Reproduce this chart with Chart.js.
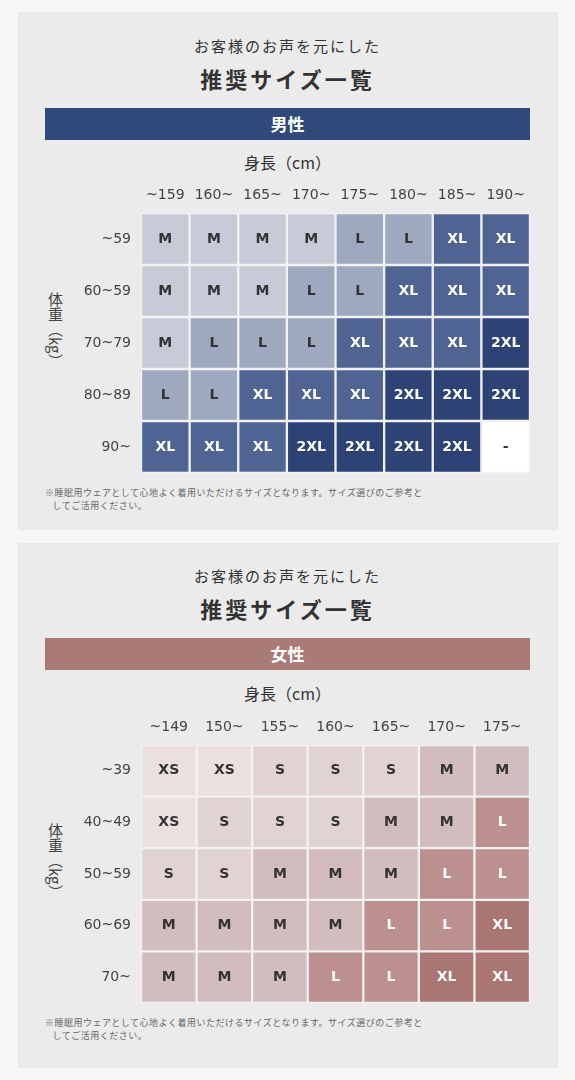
<!DOCTYPE html>
<html><head><meta charset="utf-8">
<script src="https://cdn.jsdelivr.net/npm/chart.js@4"></script>
<style>
body{margin:0;width:575px;height:1080px;background:#f6f6f6;font-family:"Noto Sans CJK JP",sans-serif;color:#333;position:relative;overflow:hidden}
.panel{position:absolute;left:18px;width:540px;background:#ebebeb}
.t1,.t2,.hd,.ax,.vt,.note,.cv{position:absolute}
.t1{left:0;width:575px;text-align:center;font-size:15px;letter-spacing:2px}
.t2{left:0;width:575px;text-align:center;font-size:22px;font-weight:bold;letter-spacing:3px}
.hd{left:45px;width:485px;height:32px;line-height:32px;text-align:center;color:#fff;font-size:17px;font-weight:bold}
.ax{left:0;width:575px;text-align:center;font-size:16px;padding-left:0}
.vt{left:46px;width:20px;font-size:15px;writing-mode:vertical-rl;color:#444}
.note{left:45px;width:495px;font-size:9px;color:#666;line-height:13px;letter-spacing:.5px}
.cv{left:0;width:575px;height:300px}
</style></head><body>
<div class="panel" style="top:12px;height:518px"></div>
<div class="panel" style="top:543px;height:525px"></div>

<div class="t1" style="top:35px">お客様のお声を元にした</div>
<div class="t2" style="top:62px">推奨サイズ一覧</div>
<div class="hd" style="top:108px;background:#2f4a7a">男性</div>
<div class="ax" style="top:150px">身長（cm）</div>
<div class="vt" style="top:292px">体重（kg）</div>
<div class="cv" style="top:180px"><canvas id="men"></canvas></div>
<div class="note" style="top:486px">※睡眠用ウェアとして心地よく着用いただけるサイズとなります。サイズ選びのご参考と<br>&nbsp;&nbsp;&nbsp;してご活用ください。</div>

<div class="t1" style="top:565px">お客様のお声を元にした</div>
<div class="t2" style="top:592px">推奨サイズ一覧</div>
<div class="hd" style="top:638px;background:#a97a76">女性</div>
<div class="ax" style="top:681px">身長（cm）</div>
<div class="vt" style="top:823px">体重（kg）</div>
<div class="cv" style="top:710px"><canvas id="women"></canvas></div>
<div class="note" style="top:1016px">※睡眠用ウェアとして心地よく着用いただけるサイズとなります。サイズ選びのご参考と<br>&nbsp;&nbsp;&nbsp;してご活用ください。</div>

<script>
const menHeights = ["~159", "160~", "165~", "170~", "175~", "180~", "185~", "190~"];
const menWeights = ["~59", "60~59", "70~79", "80~89", "90~"];
const menSizes = [
  ["M", "M", "M", "M", "L", "L", "XL", "XL"],
  ["M", "M", "M", "L", "L", "XL", "XL", "XL"],
  ["M", "L", "L", "L", "XL", "XL", "XL", "2XL"],
  ["L", "L", "XL", "XL", "XL", "2XL", "2XL", "2XL"],
  ["XL", "XL", "XL", "2XL", "2XL", "2XL", "2XL", "-"],
];
const menColors = { M: "#c6cbd7", L: "#9ea8be", XL: "#506493", "2XL": "#2d4275", "-": "#ffffff" };

const womenHeights = ["~149", "150~", "155~", "160~", "165~", "170~", "175~"];
const womenWeights = ["~39", "40~49", "50~59", "60~69", "70~"];
const womenSizes = [
  ["XS", "XS", "S", "S", "S", "M", "M"],
  ["XS", "S", "S", "S", "M", "M", "L"],
  ["S", "S", "M", "M", "M", "L", "L"],
  ["M", "M", "M", "M", "L", "L", "XL"],
  ["M", "M", "M", "L", "L", "XL", "XL"],
];
const womenColors = { XS: "#ebdfdf", S: "#e2d3d3", M: "#d2bcbd", L: "#bb908e", XL: "#a97672" };

const darkText = { "2XL": 1, XL: 1 };

function makeGrid(id, heights, weights, sizes, colors, whiteL, padTop) {
  const labelPlugin = {
    id: "cells",
    afterDatasetsDraw(chart) {
      const ctx = chart.ctx;
      ctx.save();
      ctx.textAlign = "center";
      ctx.textBaseline = "middle";
      chart.data.datasets.forEach((ds, i) => {
        chart.getDatasetMeta(i).data.forEach((bar, j) => {
          const s = sizes[i][j];
          const white = darkText[s] || (whiteL && s === "L");
          ctx.fillStyle = white ? "#ffffff" : "#333333";
          ctx.font = "bold 14px 'DejaVu Sans', sans-serif";
          ctx.fillText(s, bar.x, (bar.y + bar.base) / 2);
        });
        const first = chart.getDatasetMeta(i).data[0];
        ctx.fillStyle = "#444";
        ctx.font = "14px 'DejaVu Sans', sans-serif";
        ctx.textAlign = "right";
        ctx.fillText(weights[i], 131, (first.y + first.base) / 2);
        ctx.textAlign = "center";
      });
      const x = chart.scales.x;
      ctx.fillStyle = "#444";
      ctx.font = "14px 'DejaVu Sans', sans-serif";
      heights.forEach((h, j) => ctx.fillText(h, x.getPixelForValue(j), chart.chartArea.top - 18));
      ctx.restore();
    },
  };
  new Chart(document.getElementById(id), {
    type: "bar",
    data: {
      labels: heights,
      datasets: sizes.map((row, i) => ({
        label: weights[i],
        data: row.map(() => 1),
        backgroundColor: row.map((s) => colors[s]),
        borderColor: "#f2f2f2",
        borderWidth: 1.5,
        borderSkipped: false,
        categoryPercentage: 1,
        barPercentage: 1,
      })),
    },
    options: {
      responsive: true,
      maintainAspectRatio: false,
      animation: false,
      layout: { padding: { top: padTop, bottom: 7, left: 141, right: 45 } },
      plugins: { legend: { display: false }, tooltip: { enabled: false } },
      scales: {
        x: { stacked: true, display: false },
        y: { stacked: true, display: false, reverse: true, min: 0, max: weights.length },
      },
    },
    plugins: [labelPlugin],
  });
}

makeGrid("men", menHeights, menWeights, menSizes, menColors, false, 33);
makeGrid("women", womenHeights, womenWeights, womenSizes, womenColors, true, 35);
</script>
</body></html>
